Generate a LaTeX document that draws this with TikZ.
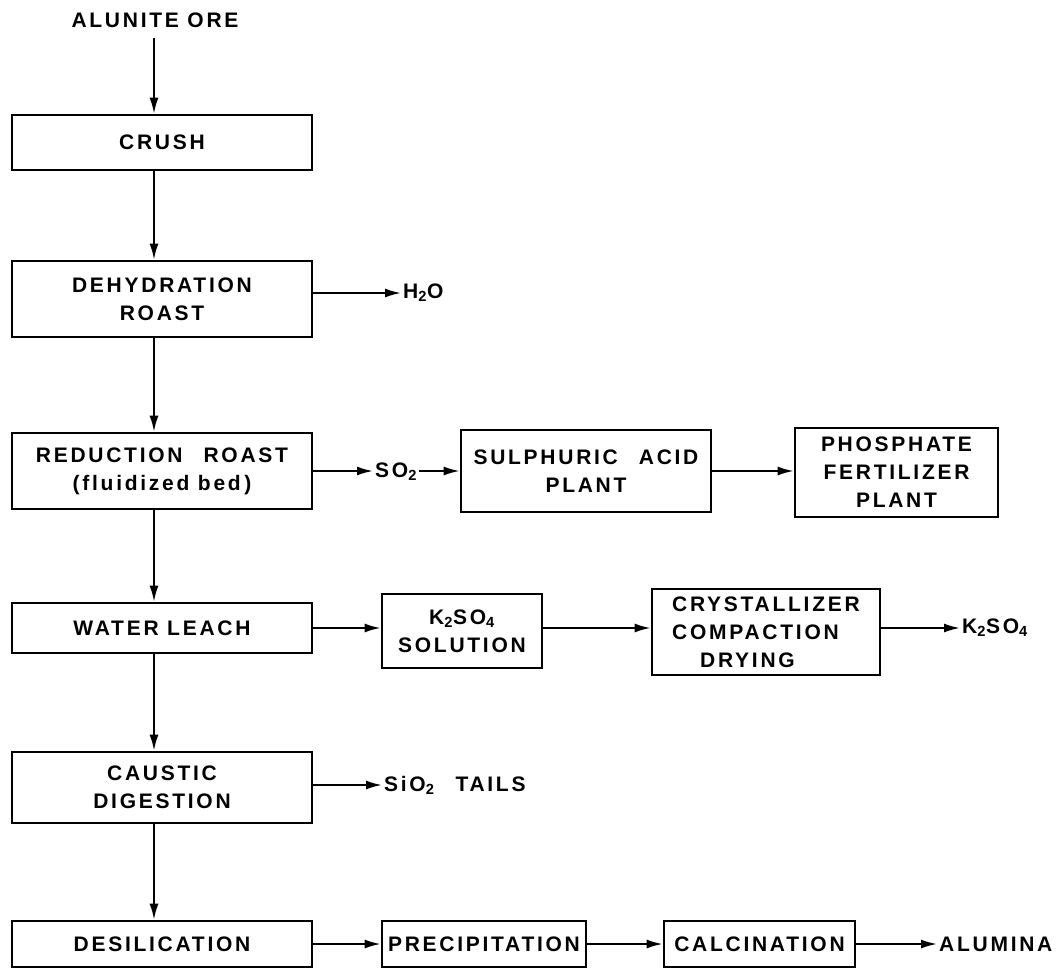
\documentclass[tikz,border=0pt]{standalone}
\usepackage{fontspec}
\setmainfont{Liberation Sans}
\newfontfamily\lett[LetterSpace=13]{Liberation Sans}
\usetikzlibrary{arrows.meta,calc}
\newcommand\lab{\lett\bfseries\fontsize{21}{28}\selectfont}
\tikzset{
  proc/.style={draw, line width=2.6pt, inner sep=0pt, align=center, font=\lab},
  lbl/.style={inner sep=2pt, anchor=west, font=\lab},
  flow/.style={line width=2pt, -{Latex[length=16pt,width=9pt]}},
}
\begin{document}
\begin{tikzpicture}[x=1pt,y=-1pt]
\fill[white] (0,0) rectangle (1060,969);
\useasboundingbox (0,0) rectangle (1060,969);
\coordinate (spine) at (154,0);
\node[font=\lab, inner sep=2pt] (ore) at (155,20) {ALUNITE ORE};
\node[proc, minimum width=300pt, minimum height=55pt] (crush) at (162,142.5) {CRUSH};
\node[proc, minimum width=300pt, minimum height=76pt] (dehyd) at (162,299) {DEHYDRATION\\ROAST};
\node[proc, minimum width=300pt, minimum height=76pt] (reduc) at (162,471) {REDUCTION\quad ROAST\\(fluidized bed\,)};
\node[proc, minimum width=300pt, minimum height=50pt] (water) at (162,628) {WATER LEACH};
\node[proc, minimum width=300pt, minimum height=71pt] (caustic) at (162,787.5) {CAUSTIC\\DIGESTION};
\node[proc, minimum width=300pt, minimum height=46pt] (desil) at (162,944) {DESILICATION};
\node[proc, minimum width=250pt, minimum height=82pt] (sulph) at (586,471) {SULPHURIC\quad ACID\\PLANT};
\node[proc, minimum width=203pt, minimum height=89pt] (phos) at (896.5,472.5) {PHOSPHATE\\FERTILIZER\\PLANT};
\node[proc, minimum width=160pt, minimum height=74pt] (k2) at (462,631) {K\textsubscript{2}SO\textsubscript{4}\\SOLUTION};
\node[proc, align=left, minimum width=228pt, minimum height=86pt] (cryst) at (766,632) {CRYSTALLIZER\\COMPACTION\\\hspace*{28pt}DRYING};
\node[proc, minimum width=204pt, minimum height=46pt] (precip) at (484,944) {PRECIPITATION};
\node[proc, minimum width=191pt, minimum height=46pt] (calc) at (759.5,944) {CALCINATION};
\node[lbl] (h2o) at (401,293) {H\textsubscript{2}O};
\node[lbl] (so2) at (373,472) {SO\textsubscript{2}};
\node[lbl] (k2out) at (960,628) {K\textsubscript{2}SO\textsubscript{4}};
\node[lbl] (sio2) at (382,785) {SiO\textsubscript{2}\quad TAILS};
\node[lbl] (alum) at (937,944) {ALUMINA};
\draw[flow, shorten <=8pt] (ore.south -| spine) -- (crush.north -| spine);
\draw[flow] (crush.south -| spine) -- (dehyd.north -| spine);
\draw[flow] (dehyd.south -| spine) -- (reduc.north -| spine);
\draw[flow] (reduc.south -| spine) -- (water.north -| spine);
\draw[flow] (water.south -| spine) -- (caustic.north -| spine);
\draw[flow] (caustic.south -| spine) -- (desil.north -| spine);
\draw[flow] (dehyd.east |- h2o) -- (h2o.west);
\draw[flow] (reduc.east |- sulph.west) -- (so2.west |- sulph.west);
\draw[flow] (so2.east |- sulph.west) -- (sulph.west);
\draw[flow] (sulph.east) -- (phos.west |- sulph.east);
\draw[flow] (water.east) -- (k2.west |- water.east);
\draw[flow] (k2.east |- water.east) -- (cryst.west |- water.east);
\draw[flow] (cryst.east |- water.east) -- (k2out.west |- water.east);
\draw[flow] (caustic.east |- sio2) -- (sio2.west);
\draw[flow] (desil.east) -- (precip.west);
\draw[flow] (precip.east) -- (calc.west);
\draw[flow] (calc.east) -- (alum.west);
\end{tikzpicture}
\end{document}
